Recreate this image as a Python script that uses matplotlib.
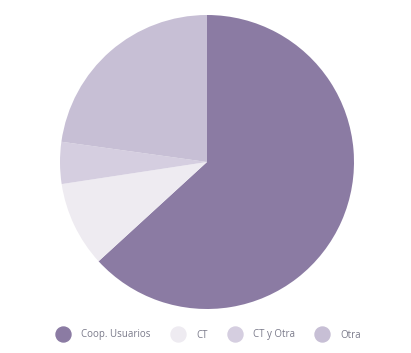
import matplotlib.pyplot as plt
from matplotlib.lines import Line2D

labels = ['Coop. Usuarios', 'CT', 'CT y Otra', 'Otra']
values = [63.2, 9.4, 4.6, 22.8]
colors = ['#8b7ba3', '#eeebf1', '#d5cee0', '#c7bfd5']

plt.rcParams['font.family'] = ['Open Sans', 'DejaVu Sans']

fig = plt.figure(figsize=(4.11, 3.53), dpi=100)
ax = fig.add_axes([60 / 411, 44 / 353, 294 / 411, 294 / 353])
ax.pie(values, colors=colors, startangle=90, counterclock=False,
       wedgeprops=dict(linewidth=0))
ax.set_xlim(-1, 1)
ax.set_ylim(-1, 1)
ax.set_aspect('equal')
ax.axis('off')

handles = [Line2D([], [], marker='o', linestyle='none', markersize=10.8,
                  markerfacecolor=c, markeredgecolor=c) for c in colors]
fig.legend(handles, labels, loc='center', bbox_to_anchor=(208 / 411, 1 - 335 / 353),
           ncol=4, frameon=False, fontsize=7.0, handlelength=1.6,
           handletextpad=1.05, columnspacing=2.0, labelcolor='#7a7a8a')

fig.savefig('out.png', dpi=100)
